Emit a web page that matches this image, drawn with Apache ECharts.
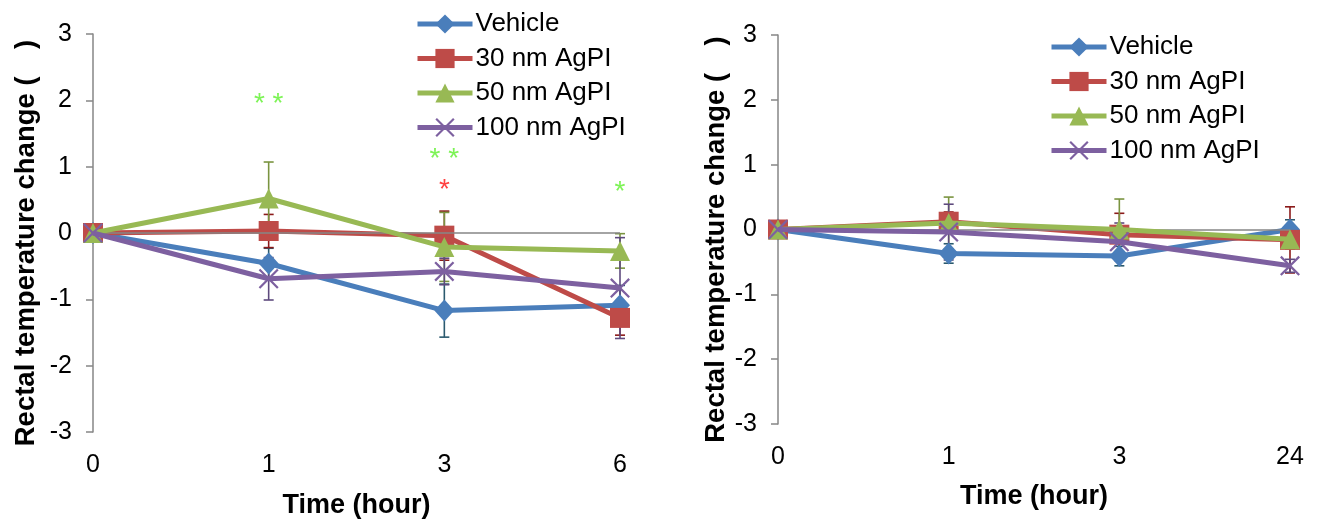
<!DOCTYPE html>
<html><head><meta charset="utf-8">
<script src="https://cdn.jsdelivr.net/npm/echarts@6/dist/echarts.min.js"></script>
<style>html,body{margin:0;padding:0;background:#fff}#c{width:1319px;height:520px}</style>
</head><body><div id="c"></div>
<script>
// ---------- DATA ----------
const seriesNames = ['Vehicle', '30 nm AgPI', '50 nm AgPI', '100 nm AgPI'];
const timesA = ['0', '1', '3', '6'];
const timesB = ['0', '1', '3', '24'];
const yMin = -3, yMax = 3, yStep = 1;
const yName = 'Rectal temperature change (\u2002\u2002)';
const xName = 'Time (hour)';

// left panel: means
const vehicleA = [0, -0.46, -1.17, -1.09];
const nm30A    = [0,  0.03, -0.04, -1.28];
const nm50A    = [0,  0.52, -0.21, -0.27];
const nm100A   = [0, -0.69, -0.58, -0.83];
// left panel: error (±)
const vehicleErrA = [0, 0.23, 0.40, 0.30];
const nm30ErrA    = [0, 0.25, 0.37, 0.26];
const nm50ErrA    = [0, 0.55, 0.52, 0.26];
const nm100ErrA   = [0, 0.32, 0.20, 0.76];

// right panel: means
const vehicleB = [0, -0.37, -0.41,  0.00];
const nm30B    = [0,  0.12, -0.08, -0.16];
const nm50B    = [0,  0.10,  0.00, -0.15];
const nm100B   = [0, -0.04, -0.19, -0.56];
// right panel: error (±)
const vehicleErrB = [0, 0.15, 0.15, 0.15];
const nm30ErrB    = [0, 0.15, 0.33, 0.51];
const nm50ErrB    = [0, 0.40, 0.47, 0.15];
const nm100ErrB   = [0, 0.43, 0.29, 0.10];

// significance marks on left panel
const sig50Cats = ['1', '3', '6'];
const sig50Vals = [2.05, 1.22, 0.72];
const sig50Text = ['* *', '* *', '*'];
const sig30Cats = ['3'];
const sig30Vals = [0.75];
const sig30Text = ['*'];

// ---------- STYLE ----------
const FONT = 'Liberation Sans, Arial, sans-serif';
const colors = ['#4A7EBB', '#BE4B48', '#98B954', '#7D60A0'];
const errColors = ['#2B5A6E', '#8B1A1A', '#7A9440', '#5E4A7D'];
const symbols = ['diamond', 'rect', 'triangle',
  'path://M0,1.6L1.6,0L10,8.4L18.4,0L20,1.6L11.6,10L20,18.4L18.4,20L10,11.6L1.6,20L0,18.4L8.4,10Z'];
const symSizes = [[20, 22], 20, [20, 20], 20];

function errRender(params, api) {
  const x = api.value(0), lo = api.value(1), hi = api.value(2);
  const a = api.coord([x, hi]), b = api.coord([x, lo]);
  const w = 5;
  const st = { stroke: api.visual('color'), lineWidth: 1.6 };
  return { type: 'group', children: [
    { type: 'line', shape: { x1: a[0], y1: a[1], x2: b[0], y2: b[1] }, style: st },
    { type: 'line', shape: { x1: a[0] - w, y1: a[1], x2: a[0] + w, y2: a[1] }, style: st },
    { type: 'line', shape: { x1: b[0] - w, y1: b[1], x2: b[0] + w, y2: b[1] }, style: st }
  ]};
}

const grids = [
  { left: 93, top: 34, width: 527, height: 398, outerBoundsMode: 'none', containLabel: false },
  { left: 778, top: 35, width: 512, height: 389, outerBoundsMode: 'none', containLabel: false }
];

function makeX(idx, cats, gap) {
  return {
    type: 'category', gridIndex: idx, data: cats, boundaryGap: false,
    axisLine: { show: false, onZero: false }, axisTick: { show: false },
    axisLabel: { fontSize: 25, color: '#000', fontFamily: FONT, margin: 21 },
    splitLine: { show: false },
    name: xName, nameLocation: 'middle', nameGap: gap,
    nameTextStyle: { fontSize: 27, fontWeight: 'bold', color: '#000', fontFamily: FONT }
  };
}
function makeY(idx, gap) {
  return {
    type: 'value', gridIndex: idx, min: yMin, max: yMax, interval: yStep,
    axisLine: { show: true, lineStyle: { color: '#868686', width: 1.5 } },
    axisTick: { show: true, length: 7, lineStyle: { color: '#868686', width: 1.5 } },
    axisLabel: { fontSize: 25, color: '#000', fontFamily: FONT, margin: 21 },
    splitLine: { show: false },
    name: yName, nameLocation: 'middle', nameGap: gap,
    nameTextStyle: { fontSize: 27.5, fontWeight: 'bold', color: '#000', fontFamily: FONT, padding: [0, 20, 0, 0] }
  };
}

const panels = [
  { means: [vehicleA, nm30A, nm50A, nm100A], errs: [vehicleErrA, nm30ErrA, nm50ErrA, nm100ErrA] },
  { means: [vehicleB, nm30B, nm50B, nm100B], errs: [vehicleErrB, nm30ErrB, nm50ErrB, nm100ErrB] }
];

const series = [];
panels.forEach((p, gi) => {
  series.push({
    type: 'line', name: 'zero' + gi, xAxisIndex: gi, yAxisIndex: gi, data: [], z: 1, silent: true,
    markLine: { silent: true, symbol: 'none', label: { show: false },
      lineStyle: { color: '#868686', width: 1.5, type: 'solid' }, data: [{ yAxis: 0 }], animation: false }
  });
  p.means.forEach((m, si) => {
    series.push({
      type: 'custom', name: 'err' + gi + si, xAxisIndex: gi, yAxisIndex: gi, z: 2,
      renderItem: errRender, itemStyle: { color: errColors[si] },
      encode: { x: 0, y: [1, 2] },
      data: m.map((v, i) => [i, v - p.errs[si][i], v + p.errs[si][i]])
    });
  });
  p.means.forEach((m, si) => {
    series.push({
      type: 'line', name: seriesNames[si], xAxisIndex: gi, yAxisIndex: gi, z: 3 + si,
      data: m, symbol: symbols[si], symbolSize: symSizes[si], showSymbol: true,
      lineStyle: { color: colors[si], width: 5 },
      itemStyle: { color: colors[si] },
      animation: false
    });
  });
});

function sigSeries(cats, vals, txt, color) {
  return {
    type: 'scatter', name: 'sig' + color, xAxisIndex: 0, yAxisIndex: 0, z: 10, symbolSize: 1,
    itemStyle: { color: 'rgba(0,0,0,0)' },
    data: cats.map((c, i) => ({ value: [c, vals[i]], label: { formatter: txt[i] } })),
    label: { show: true, position: 'inside', color: color, fontSize: 28, fontFamily: FONT, offset: [0, 7] }
  };
}
series.push(sigSeries(sig50Cats, sig50Vals, sig50Text, '#5CF02C'));
series.push(sigSeries(sig30Cats, sig30Vals, sig30Text, '#FF1010'));

const legendBase = {
  orient: 'vertical', itemWidth: 55, itemHeight: 24, itemGap: 8.5,
  data: seriesNames, selectedMode: false,
  lineStyle: { width: 5 },
  textStyle: { fontSize: 26, color: '#000', fontFamily: FONT, padding: [0, 0, 0, -2] }
};

const chart = echarts.init(document.getElementById('c'), null, { renderer: 'canvas' });
chart.setOption({
  animation: false,
  backgroundColor: '#fff',
  grid: grids,
  xAxis: [makeX(0, timesA, 60), makeX(1, timesB, 59)],
  yAxis: [makeY(0, 53), makeY(1, 48)],
  legend: [
    Object.assign({}, legendBase, { left: 410, top: 6 }),
    Object.assign({}, legendBase, { left: 1044, top: 29 })
  ],
  series: series
});
</script></body></html>
